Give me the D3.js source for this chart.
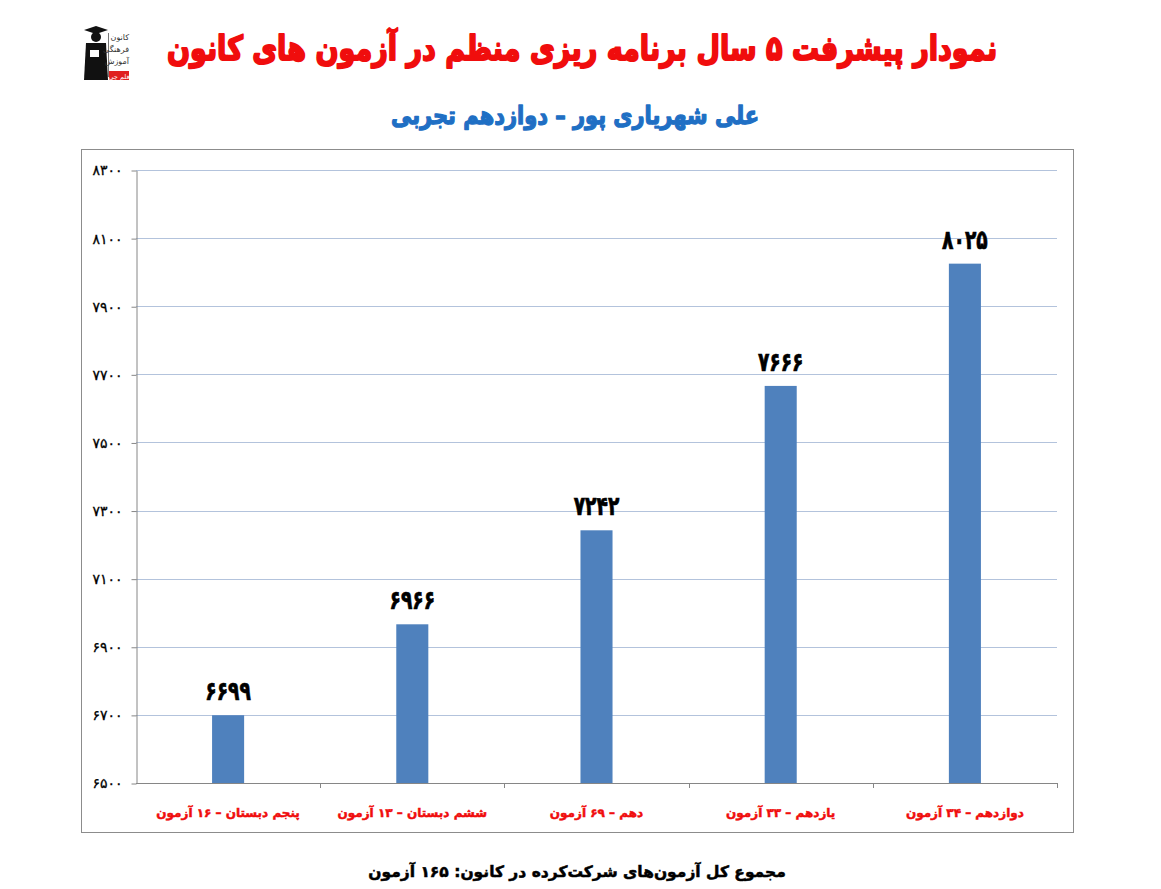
<!DOCTYPE html>
<html>
<head>
<meta charset="utf-8">
<script src="https://cdn.jsdelivr.net/npm/d3@7"></script>
<style>
  body { margin: 0; background: #fff; }
  svg { display: block; font-family: "DejaVu Sans", sans-serif; }
</style>
</head>
<body>
<svg width="1161" height="889"></svg>
<script>
const categories = [
  'پنجم دبستان – ۱۶ آزمون',
  'ششم دبستان – ۱۳ آزمون',
  'دهم – ۶۹ آزمون',
  'یازدهم – ۳۳ آزمون',
  'دوازدهم – ۳۴ آزمون'
];
const scores = [6699, 6966, 7242, 7666, 8025];
const yTicks = [6500, 6700, 6900, 7100, 7300, 7500, 7700, 7900, 8100, 8300];
const titleText = 'نمودار پیشرفت ۵ سال برنامه ریزی منظم در آزمون های کانون';
const subtitleText = 'علی شهریاری پور – دوازدهم تجربی';
const footerText = 'مجموع کل آزمون‌های شرکت‌کرده در کانون:  ۱۶۵ آزمون';

const fa = (n) => String(n).replace(/\d/g, (c) => '۰۱۲۳۴۵۶۷۸۹'[c]);

const svg = d3.select('svg');

// fit a text to a given width by scaling the font size
function fitText(sel, width) {
  const w = sel.node().getComputedTextLength();
  const fs = parseFloat(sel.attr('font-size'));
  sel.attr('font-size', fs * width / w);
}

// logo
const logo = svg.append('g').attr('transform', 'translate(80,28)');
logo.append('path')
  .attr('d', 'M4,2 L16,-2 L28,2 L16,6 Z')
  .attr('fill', '#111');
logo.append('circle').attr('cx', 16).attr('cy', 9).attr('r', 5).attr('fill', '#111');
logo.append('path')
  .attr('d', 'M6,15 L26,15 L28,52 L4,52 Z')
  .attr('fill', '#111');
logo.append('rect').attr('x', 10).attr('y', 22).attr('width', 9).attr('height', 7).attr('fill', '#fff');
logo.append('rect').attr('x', 28).attr('y', 5).attr('width', 0.8).attr('height', 44).attr('fill', '#555');
const logoWords = ['کانون', 'فرهنگی', 'آموزش'];
logo.selectAll('text.lw')
  .data(logoWords)
  .enter()
  .append('text')
    .attr('class', 'lw')
    .attr('x', 49)
    .attr('y', (d, i) => 12 + i * 12)
    .attr('text-anchor', 'end')
    .attr('font-size', 8)
    .attr('fill', '#333')
    .text(d => d);
logo.append('rect').attr('x', 29).attr('y', 43).attr('width', 20).attr('height', 9).attr('fill', '#e0201f');
logo.append('text')
  .attr('x', 39).attr('y', 50.5)
  .attr('text-anchor', 'middle')
  .attr('font-size', 6.5).attr('fill', '#fff')
  .text('قلم چی');

// titles
const title = svg.append('text')
  .attr('x', 582).attr('y', 0)
  .attr('text-anchor', 'middle')
  .attr('direction', 'rtl')
  .attr('font-size', 30).attr('font-weight', 'bold')
  .attr('fill', '#f00d0d')
  .attr('stroke', '#f00d0d').attr('stroke-width', 1.6)
  .attr('stroke-linejoin', 'round')
  .attr('transform', 'translate(0,60) scale(1,1.25)')
  .text(titleText);
fitText(title, 830);

const subtitle = svg.append('text')
  .attr('x', 575).attr('y', 0)
  .attr('text-anchor', 'middle')
  .attr('direction', 'rtl')
  .attr('font-size', 22).attr('font-weight', 'bold')
  .attr('fill', '#1f6fc4')
  .attr('stroke', '#1f6fc4').attr('stroke-width', 1.1)
  .attr('stroke-linejoin', 'round')
  .attr('transform', 'translate(0,124) scale(1,1.2)')
  .text(subtitleText);
fitText(subtitle, 368);

// chart frame
svg.append('rect')
  .attr('x', 81.5).attr('y', 149.5)
  .attr('width', 992).attr('height', 683)
  .attr('fill', 'none').attr('stroke', '#8c8c8c');

const plotLeft = 136, plotRight = 1057, plotTop = 170, plotBottom = 783;
const x = d3.scaleBand().domain(categories).range([plotLeft, plotRight]).paddingInner(0.826).paddingOuter(0.413);
const xOuter = d3.scaleBand().domain(categories).range([plotLeft, plotRight]);
const y = d3.scaleLinear().domain([6500, 8300]).range([plotBottom, plotTop]);

// gridlines
svg.append('g')
  .selectAll('line')
  .data(yTicks.slice(1))
  .enter()
  .append('line')
    .attr('x1', plotLeft).attr('x2', plotRight)
    .attr('y1', d => Math.round(y(d)) + 0.5)
    .attr('y2', d => Math.round(y(d)) + 0.5)
    .attr('stroke', '#b3c3dc').attr('stroke-width', 1);

// y axis
const yAxis = svg.append('g')
  .attr('transform', `translate(${plotLeft + 0.5},0.5)`)
  .call(d3.axisLeft(y).tickValues(yTicks).tickSize(5).tickSizeOuter(0).tickFormat(fa));
yAxis.select('.domain').attr('stroke', '#868686');
yAxis.selectAll('.tick line').attr('stroke', '#868686');
yAxis.selectAll('.tick text')
  .attr('x', -14)
  .attr('font-size', 14)
  .attr('fill', '#000')
  .attr('stroke', '#000').attr('stroke-width', 0.3)
  .attr('font-family', '"DejaVu Sans", sans-serif');

// x axis line and category ticks
svg.append('line')
  .attr('x1', plotLeft).attr('x2', plotRight)
  .attr('y1', plotBottom + 0.5).attr('y2', plotBottom + 0.5)
  .attr('stroke', '#868686');
svg.append('g')
  .selectAll('line')
  .data(categories)
  .enter()
  .append('line')
    .attr('x1', d => Math.round(xOuter(d) + xOuter.bandwidth()) + 0.5)
    .attr('x2', d => Math.round(xOuter(d) + xOuter.bandwidth()) + 0.5)
    .attr('y1', plotBottom).attr('y2', plotBottom + 5)
    .attr('stroke', '#868686');

// bars
svg.append('g')
  .selectAll('rect')
  .data(scores)
  .enter()
  .append('rect')
    .attr('x', (d, i) => x(categories[i]))
    .attr('y', d => y(d))
    .attr('width', x.bandwidth())
    .attr('height', d => plotBottom - y(d))
    .attr('fill', '#4f81bd');

// value labels
svg.append('g')
  .selectAll('text')
  .data(scores)
  .enter()
  .append('text')
    .attr('transform', (d, i) => `translate(${x(categories[i]) + x.bandwidth() / 2},${y(d) - 15}) scale(0.85,1.2)`)
    .attr('text-anchor', 'middle')
    .attr('font-size', 22).attr('font-weight', 'bold')
    .attr('fill', '#000')
    .attr('stroke', '#000').attr('stroke-width', 0.6)
    .text(d => fa(d));

// category labels
svg.append('g')
  .selectAll('text')
  .data(categories)
  .enter()
  .append('text')
    .attr('x', d => xOuter(d) + xOuter.bandwidth() / 2)
    .attr('y', 817)
    .attr('text-anchor', 'middle')
    .attr('direction', 'rtl')
    .attr('font-size', 12).attr('font-weight', 'bold')
    .attr('fill', '#f00d0d')
    .attr('stroke', '#f00d0d').attr('stroke-width', 0.5)
    .text(d => d);

// footer
const footer = svg.append('text')
  .attr('x', 577).attr('y', 877)
  .attr('text-anchor', 'middle')
  .attr('direction', 'rtl')
  .attr('font-size', 15).attr('font-weight', 'bold')
  .attr('fill', '#000')
  .attr('stroke', '#000').attr('stroke-width', 0.5)
  .text(footerText);
fitText(footer, 418);
</script>
</body>
</html>
